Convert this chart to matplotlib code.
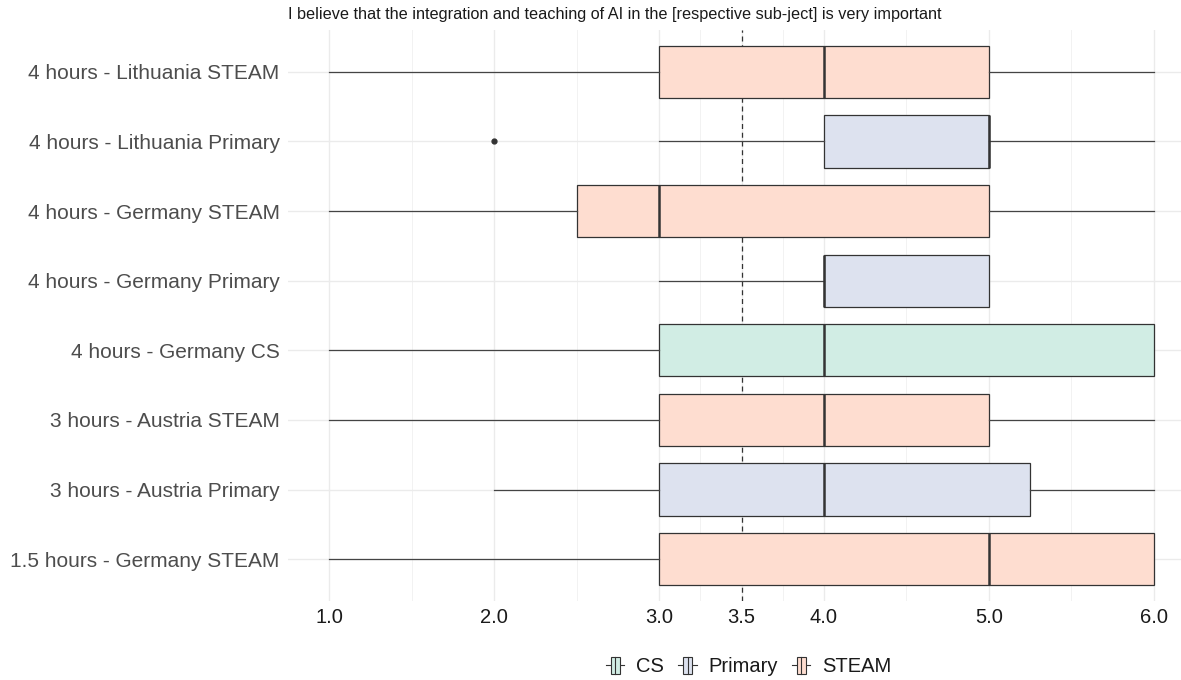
import matplotlib
matplotlib.use('Agg')
import matplotlib.pyplot as plt
from matplotlib.legend_handler import HandlerBase
from matplotlib.patches import Rectangle
from matplotlib.lines import Line2D

plt.rcParams['font.family'] = ['Liberation Sans', 'DejaVu Sans']

# top to bottom as shown
groups = ['4 hours - Lithuania STEAM', '4 hours - Lithuania Primary', '4 hours - Germany STEAM',
          '4 hours - Germany Primary', '4 hours - Germany CS', '3 hours - Austria STEAM',
          '3 hours - Austria Primary', '1.5 hours - Germany STEAM']
kind = ['STEAM', 'Primary', 'STEAM', 'Primary', 'CS', 'STEAM', 'Primary', 'STEAM']
whis_lo = [1, 3, 1, 3, 1, 1, 2, 1]
q1 = [3, 4, 2.5, 4, 3, 3, 3, 3]
med = [4, 5, 3, 4, 4, 4, 4, 5]
q3 = [5, 5, 5, 5, 6, 5, 5.25, 6]
whis_hi = [6, 6, 6, 5, 6, 6, 6, 6]
fliers = [[], [2], [], [], [], [], [], []]

x_ticks = [1.0, 2.0, 3.0, 3.5, 4.0, 5.0, 6.0]
x_minor = [1.5, 2.5, 3.25, 3.75, 4.5, 5.5]
threshold = 3.5
title = 'I believe that the integration and teaching of AI in the [respective sub-ject] is very important'

colors = {'CS': '#D1EDE4', 'Primary': '#DDE2EF', 'STEAM': '#FEDDD0'}
edge = '#333333'

fig = plt.figure(figsize=(11.81, 6.8), dpi=100)
ax = fig.add_axes([288 / 1181, 1 - 601 / 680, (1195 - 288) / 1181, 571 / 680])

n = len(groups)
pos = list(range(n, 0, -1))
stats = []
for i in range(n):
    stats.append(dict(med=med[i], q1=q1[i], q3=q3[i], whislo=whis_lo[i], whishi=whis_hi[i],
                      fliers=fliers[i], label=groups[i]))

bp = ax.bxp(stats, positions=pos, vert=False, widths=0.75, patch_artist=True, showcaps=False,
            boxprops=dict(edgecolor=edge, linewidth=0.9),
            medianprops=dict(color=edge, linewidth=1.8),
            whiskerprops=dict(color='#444444', linewidth=0.9),
            flierprops=dict(marker='o', markersize=3.5, markerfacecolor=edge, markeredgecolor=edge))
for b, k in zip(bp['boxes'], kind):
    b.set_facecolor(colors[k])

ax.axvline(threshold, color='#333333', linestyle=(0, (4, 3)), linewidth=0.9, zorder=1)

ax.set_xlim(0.75, 6.25)
ax.set_ylim(0.4, n + 0.6)
ax.set_xticks(x_ticks)
ax.set_xticklabels(['%.1f' % t for t in x_ticks])
ax.set_xticks(x_minor, minor=True)
ax.set_yticks(pos)
ax.set_yticklabels(groups)
ax.tick_params(axis='both', which='both', length=0, labelsize=14.5, pad=6)
ax.tick_params(axis='y', labelsize=15)
ax.tick_params(axis='x', labelcolor='#1A1A1A', pad=5)
ax.tick_params(axis='y', labelcolor='#4D4D4D')
ax.grid(True, which='major', color='#EBEBEB', linewidth=1.0, zorder=0)
ax.grid(True, which='minor', axis='x', color='#F2F2F2', linewidth=0.7, zorder=0)
ax.set_axisbelow(True)
for s in ax.spines.values():
    s.set_visible(False)

fig.text(288 / 1181, 1 - 15 / 680, title, fontsize=11.7, va='center', ha='left', color='#1A1A1A')


class BoxKey(HandlerBase):
    def create_artists(self, legend, orig, xd, yd, w, h, fontsize, trans):
        cx = xd + w / 2
        bw = w * 0.5
        cy = yd + h / 2
        stub = Line2D([xd, xd + w], [cy, cy], color=edge, linewidth=0.8, transform=trans)
        r = Rectangle((cx - bw / 2, yd - h * 0.1), bw, h * 1.2, facecolor=orig.get_facecolor(),
                      edgecolor=edge, linewidth=0.8, transform=trans)
        m = Line2D([cx, cx], [yd - h * 0.1, yd + h * 1.1], color=edge, linewidth=0.8, transform=trans)
        return [stub, r, m]


handles = [Rectangle((0, 0), 1, 1, facecolor=colors[k]) for k in ['CS', 'Primary', 'STEAM']]
fig.legend(handles, ['CS', 'Primary', 'STEAM'], handler_map={Rectangle: BoxKey()},
           loc='center', bbox_to_anchor=(749 / 1181, 1 - 667 / 680), ncol=3, frameon=False,
           fontsize=14.5, handlelength=0.9, handletextpad=0.6, columnspacing=0.7,
           labelcolor='#1A1A1A')

fig.savefig('out.png', dpi=100)
